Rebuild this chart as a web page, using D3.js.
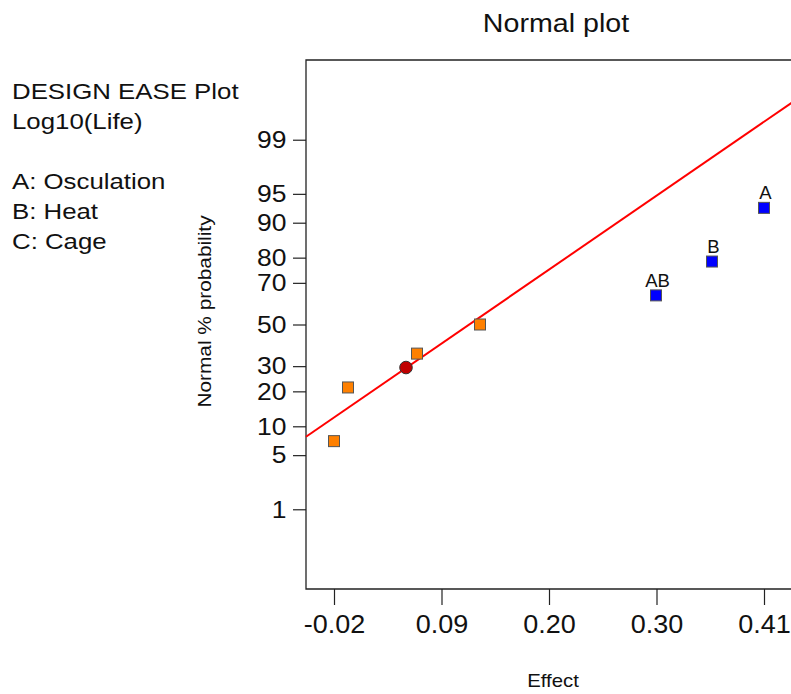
<!DOCTYPE html>
<html>
<head>
<meta charset="utf-8">
<script src="https://cdn.jsdelivr.net/npm/d3@7"></script>
<style>
  html, body { margin: 0; padding: 0; background: #fff; }
  svg { display: block; }
  text { font-family: "Liberation Sans", Arial, Helvetica, sans-serif; fill: #111; }
</style>
</head>
<body>
<svg id="chart" width="791" height="694"></svg>
<script>
// Normal probability plot of factorial effects
const effectLabels = ["", "", "", "", "AB", "B", "A"];
const effectValues = [-0.020, -0.006, 0.063, 0.126, 0.302, 0.358, 0.410];
const effectProbs  = [7.1, 21.4, 35.7, 50.0, 64.3, 78.6, 92.9];
const effectKept   = [false, false, false, false, true, true, true];

// extra round marker on the reference line
const markerEffect = [0.052];
const markerProb   = [29.4];

// fitted normal reference line (mean and standard deviation of effects)
const fitMean = 0.1152;
const fitSd = 0.1155;

const xTickValues = [-0.0200, 0.0875, 0.1950, 0.3025, 0.4100];
const xTickLabels = ["-0.02", "0.09", "0.20", "0.30", "0.41"];
const yTickValues = [1, 5, 10, 20, 30, 50, 70, 80, 90, 95, 99];

const infoLines = ["DESIGN EASE Plot", "Log10(Life)", "", "A: Osculation", "B: Heat", "C: Cage"];

// inverse standard normal CDF (Acklam's rational approximation)
function probit(p) {
  const a = [-3.969683028665376e+01, 2.209460984245205e+02, -2.759285104469687e+02,
             1.383577518672690e+02, -3.066479806614716e+01, 2.506628277459239e+00];
  const b = [-5.447609879822406e+01, 1.615858368580409e+02, -1.556989798598866e+02,
             6.680131188771972e+01, -1.328068155288572e+01];
  const c = [-7.784894002430293e-03, -3.223964580411365e-01, -2.400758277161838e+00,
             -2.549732539343734e+00, 4.374664141464968e+00, 2.938163982698783e+00];
  const d = [7.784695709041462e-03, 3.224671290700398e-01, 2.445134137142996e+00,
             3.754408661907416e+00];
  const pl = 0.02425;
  if (p < pl) {
    const q = Math.sqrt(-2 * Math.log(p));
    return (((((c[0]*q+c[1])*q+c[2])*q+c[3])*q+c[4])*q+c[5]) /
           ((((d[0]*q+d[1])*q+d[2])*q+d[3])*q+1);
  }
  if (p > 1 - pl) {
    const q = Math.sqrt(-2 * Math.log(1 - p));
    return -(((((c[0]*q+c[1])*q+c[2])*q+c[3])*q+c[4])*q+c[5]) /
            ((((d[0]*q+d[1])*q+d[2])*q+d[3])*q+1);
  }
  const q = p - 0.5, r = q * q;
  return (((((a[0]*r+a[1])*r+a[2])*r+a[3])*r+a[4])*r+a[5])*q /
         (((((b[0]*r+b[1])*r+b[2])*r+b[3])*r+b[4])*r+1);
}

// widen glyphs horizontally by a factor, keeping the anchor
function widen(sel, factor) {
  sel.each(function () {
    const w = this.getComputedTextLength();
    if (w > 0) {
      this.setAttribute("textLength", (w * factor).toFixed(2));
      this.setAttribute("lengthAdjust", "spacingAndGlyphs");
    }
  });
}

const svg = d3.select("#chart");
const plot = { left: 306, top: 60, right: 806, bottom: 589 };

const x = d3.scaleLinear().domain([-0.048, 0.452]).range([plot.left, plot.right]);
const z = d3.scaleLinear().domain([-3.33, 3.33]).range([plot.bottom, plot.top]);
const y = p => z(probit(p / 100));

// title
svg.append("text")
  .attr("x", 556).attr("y", 32)
  .attr("text-anchor", "middle")
  .style("font-size", "26px")
  .text("Normal plot")
  .call(widen, 1.1);

// info block
svg.append("g").selectAll("text")
  .data(infoLines)
  .join("text")
  .attr("x", 12)
  .attr("y", (d, i) => 99 + i * 30)
  .style("font-size", "21.5px")
  .text(d => d)
  .call(widen, 1.2);

// y axis (probability scale)
const yAxis = d3.axisLeft(z)
  .tickValues(yTickValues.map(p => probit(p / 100)))
  .tickFormat((d, i) => String(yTickValues[i]))
  .tickSize(13)
  .tickPadding(6.5);
const gy = svg.append("g")
  .attr("transform", `translate(${plot.left},0)`)
  .call(yAxis);
gy.select(".domain").remove();
gy.selectAll(".tick line").attr("stroke", "#222").attr("stroke-width", 1.2);
gy.selectAll(".tick text")
  .attr("fill", "#111")
  .style("font-size", "24.5px")
  .attr("font-family", null)
  .call(widen, 1.08);

// x axis (effect)
const xAxis = d3.axisBottom(x)
  .tickValues(xTickValues)
  .tickFormat((d, i) => xTickLabels[i])
  .tickSize(16)
  .tickPadding(10);
const gx = svg.append("g")
  .attr("transform", `translate(0,${plot.bottom})`)
  .call(xAxis);
gx.select(".domain").remove();
gx.selectAll(".tick line").attr("stroke", "#222").attr("stroke-width", 1.2);
gx.selectAll(".tick text")
  .attr("fill", "#111")
  .style("font-size", "25px")
  .attr("font-family", null)
  .call(widen, 1.08);

// frame: left, top and bottom edges
svg.append("path")
  .attr("d", `M${plot.right},${plot.top}H${plot.left}V${plot.bottom}H${plot.right}`)
  .attr("fill", "none")
  .attr("stroke", "#222")
  .attr("stroke-width", 1.3);

// axis titles
svg.append("text")
  .attr("transform", `translate(211,311.5) rotate(-90)`)
  .attr("text-anchor", "middle")
  .style("font-size", "17.5px")
  .text("Normal % probability")
  .call(widen, 1.19);

svg.append("text")
  .attr("x", 553).attr("y", 687)
  .attr("text-anchor", "middle")
  .style("font-size", "18.5px")
  .text("Effect")
  .call(widen, 1.1);

// reference line
const [e0, e1] = x.domain();
svg.append("line")
  .attr("x1", x(e0)).attr("y1", z((e0 - fitMean) / fitSd))
  .attr("x2", x(e1)).attr("y2", z((e1 - fitMean) / fitSd))
  .attr("stroke", "#ff0000")
  .attr("stroke-width", 2);

// effect squares
const pts = effectValues.map((v, i) => ({
  v, p: effectProbs[i], label: effectLabels[i], kept: effectKept[i]
}));
const sq = 11;
svg.append("g").selectAll("rect")
  .data(pts)
  .join("rect")
  .attr("x", d => x(d.v) - sq / 2)
  .attr("y", d => y(d.p) - sq / 2)
  .attr("width", sq).attr("height", sq)
  .attr("fill", d => d.kept ? "#0000ff" : "#ff8000")
  .attr("stroke", "#555")
  .attr("stroke-width", 1);

svg.append("g").selectAll("text")
  .data(pts.filter(d => d.label))
  .join("text")
  .attr("x", d => x(d.v) + 1.5)
  .attr("y", d => y(d.p) - 8.5)
  .attr("text-anchor", "middle")
  .style("font-size", "18.5px")
  .text(d => d.label);

// round marker
svg.append("g").selectAll("circle")
  .data(markerEffect.map((v, i) => ({ v, p: markerProb[i] })))
  .join("circle")
  .attr("cx", d => x(d.v))
  .attr("cy", d => y(d.p))
  .attr("r", 6.3)
  .attr("fill", "#c00000")
  .attr("stroke", "#333")
  .attr("stroke-width", 1);
</script>
</body>
</html>
